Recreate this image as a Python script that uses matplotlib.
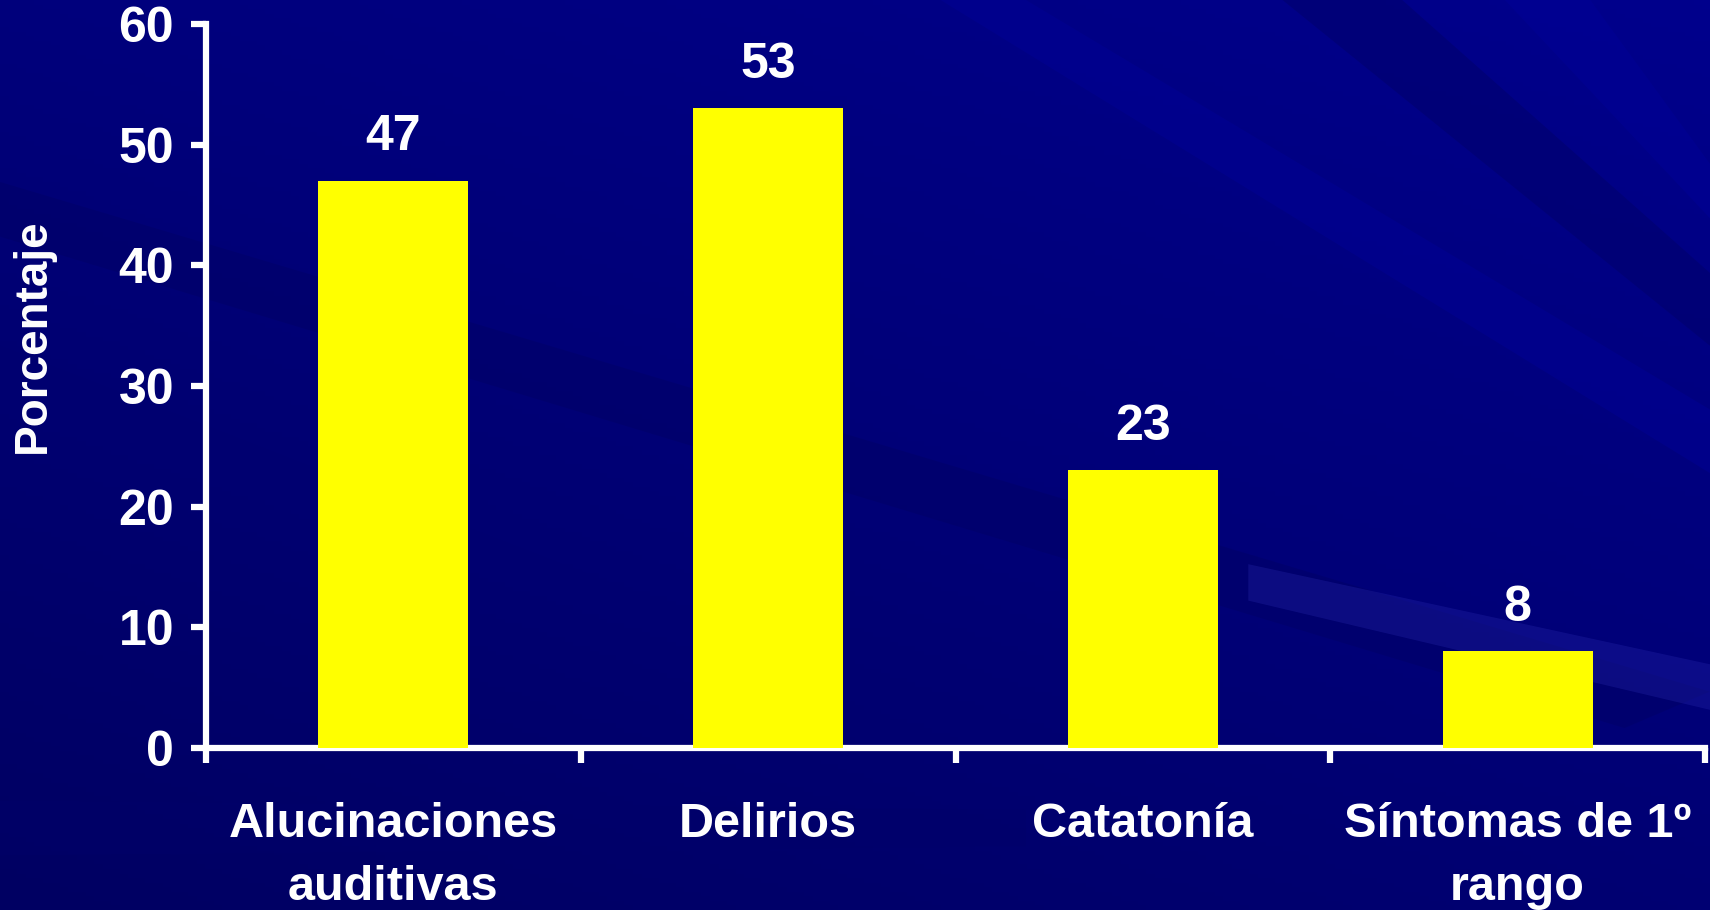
import numpy as np
import matplotlib
matplotlib.use("Agg")
import matplotlib.pyplot as plt
from matplotlib.patches import Polygon

categorias = ["Alucinaciones\nauditivas", "Delirios", "Catatonía", "Síntomas de 1º\nrango"]
porcentajes = [47, 53, 23, 8]
marcas_y = [0, 10, 20, 30, 40, 50, 60]

plt.rcParams["font.family"] = ["Liberation Sans", "DejaVu Sans"]
plt.rcParams["font.weight"] = "bold"

fig = plt.figure(figsize=(17.1, 9.1), dpi=100)
fig.patch.set_facecolor("#000080")

# fondo: degradado azul con franjas diagonales
fondo = fig.add_axes([0, 0, 1, 1], zorder=0)
fondo.set_xlim(0, 1)
fondo.set_ylim(0, 1)
fondo.axis("off")
yy, xx = np.mgrid[0:1:200j, 0:1:200j]
grad = np.clip(0.55 * yy + 0.35 * (1 - xx), 0, 1)
fondo.imshow(grad, extent=[0, 1, 0, 1], origin="upper", cmap=matplotlib.colors.LinearSegmentedColormap.from_list(
    "azul", ["#00008c", "#000062"]), aspect="auto", zorder=0)
franjas = [
    ([(0.0, 0.62), (0.0, 0.57), (0.75, 0.0), (0.85, 0.0)], "#000070", 0.3),
    ([(0.0, 0.80), (0.0, 0.74), (0.95, 0.20), (1.0, 0.24)], "#00005c", 0.3),
    ([(0.55, 1.0), (0.60, 1.0), (1.0, 0.55), (1.0, 0.48)], "#000094", 0.5),
    ([(0.75, 1.0), (0.82, 1.0), (1.0, 0.70), (1.0, 0.62)], "#00006a", 0.5),
    ([(0.88, 1.0), (0.93, 1.0), (1.0, 0.82), (1.0, 0.76)], "#000096", 0.5),
    ([(0.73, 0.38), (0.73, 0.34), (1.0, 0.22), (1.0, 0.27)], "#2a2ab0", 0.3),
    ([(0.0, 0.12), (0.0, 0.06), (0.6, 0.07), (0.6, 0.11)], "#00006a", 0.4),
]
for pts, col, a in franjas:
    fondo.add_patch(Polygon(pts, closed=True, facecolor=col, edgecolor="none", alpha=a, zorder=1))

ax = fig.add_axes([206 / 1710, 1 - 748 / 910, 1499 / 1710, 724 / 910], zorder=2)
ax.set_facecolor("none")

x = np.arange(len(categorias))
barras = ax.bar(x, porcentajes, width=0.40, color="#ffff00", edgecolor="none", zorder=3)

for xi, v in zip(x, porcentajes):
    ax.annotate(str(v), (xi, v), xytext=(0, 15), textcoords="offset points",
                ha="center", va="bottom", color="white", fontsize=36, fontweight="bold")

ax.set_xlim(-0.5, len(categorias) - 0.5)
ax.set_ylim(0, 60)
ax.set_yticks(marcas_y)
ax.set_xticks(x)
ax.set_xticklabels(categorias, fontsize=35, fontweight="bold", color="white", linespacing=1.5)
ax.set_xticks(np.arange(-0.5, len(categorias)), minor=True)

for lado in ["top", "right"]:
    ax.spines[lado].set_visible(False)
for lado in ["left", "bottom"]:
    ax.spines[lado].set_color("white")
    ax.spines[lado].set_linewidth(4.5)
    ax.spines[lado].set_capstyle("projecting")

ax.tick_params(axis="y", colors="white", labelsize=36, length=11, width=4.5, pad=12)
ax.tick_params(axis="x", which="major", length=0, pad=39, colors="white")
ax.tick_params(axis="x", which="minor", length=11, width=4.5, color="white", direction="out")
for t in ax.get_yticklabels():
    t.set_fontweight("bold")

fig.text(33 / 1710, 1 - 336 / 910, "Porcentaje", rotation=90, ha="center", va="center",
         color="white", fontsize=33, fontweight="bold")

fig.savefig("out.png", dpi=100, facecolor=fig.get_facecolor())
